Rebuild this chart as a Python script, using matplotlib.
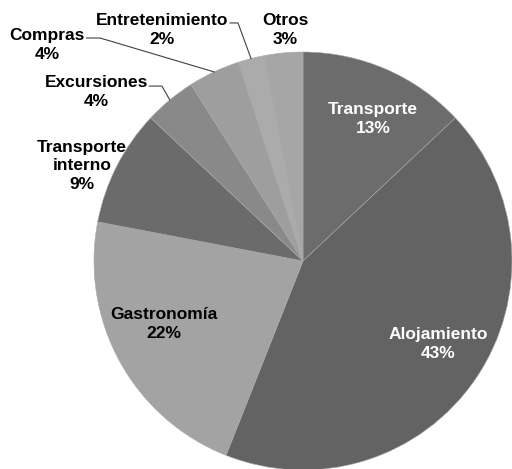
import numpy as np
import matplotlib
matplotlib.use("Agg")
import matplotlib.pyplot as plt

categorias = ["Transporte", "Alojamiento", "Gastronomía", "Transporte\ninterno",
              "Excursiones", "Compras", "Entretenimiento", "Otros"]
porcentajes = [13, 43, 22, 9, 4, 4, 2, 3]
colores = ["#6c6c6c", "#636363", "#a3a3a3", "#6b6b6b",
           "#898989", "#9e9e9e", "#ababab", "#a6a6a6"]

# posiciones de las etiquetas (coordenadas del eje, radio = 1)
pos_etiquetas = [(0.335, 0.68), (0.646, -0.397), (-0.665, -0.30), (-1.057, 0.455),
                 (-0.99, 0.809), (-1.225, 1.033), (-0.675, 1.105), (-0.086, 1.105)]
color_texto = ["white", "white", "black", "black", "black", "black", "black", "black"]
# lineas guia: (inicio junto al texto, codo)
guias = {4: [(-0.735, 0.837), (-0.675, 0.837)],
         5: [(-1.036, 1.067), (-0.971, 1.067)],
         6: [(-0.349, 1.139), (-0.311, 1.139)]}

W, H = 512, 469
cx, cy, r = 303, 261, 209
fig = plt.figure(figsize=(W / 100, H / 100), dpi=100)
ax = fig.add_axes([(cx - r) / W, (H - cy - r) / H, 2 * r / W, 2 * r / H])

wedges, _ = ax.pie(porcentajes, colors=colores, startangle=90, counterclock=False,
                   radius=1, wedgeprops=dict(edgecolor="#a8a8a8", linewidth=0.4))
ax.set_xlim(-1, 1)
ax.set_ylim(-1, 1)
ax.set_aspect("equal")
ax.axis("off")

for i, (cat, p) in enumerate(zip(categorias, porcentajes)):
    x, y = pos_etiquetas[i]
    ax.text(x, y, f"{cat}\n{p}%", ha="center", va="center", fontsize=12.5,
            fontweight="bold", family="Liberation Sans", color=color_texto[i],
            linespacing=1.3, clip_on=False)
    if i in guias:
        w = wedges[i]
        ang = np.deg2rad((w.theta1 + w.theta2) / 2)
        px, py = np.cos(ang), np.sin(ang)
        (x0, y0), (x1, y1) = guias[i]
        ax.plot([x0, x1, px], [y0, y1, py], color="#404040", linewidth=0.8,
                clip_on=False)

fig.savefig("out.png", dpi=100)
